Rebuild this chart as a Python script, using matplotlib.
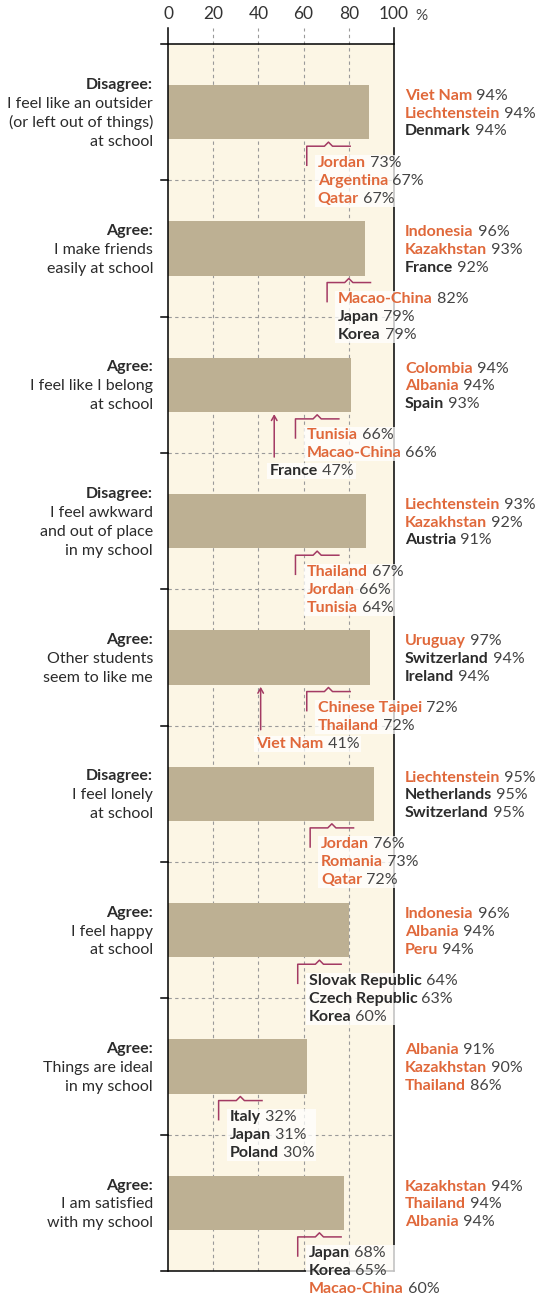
import matplotlib.pyplot as plt
from matplotlib.patches import Rectangle
from matplotlib.transforms import Bbox

plt.rcParams['font.family'] = ['Lato', 'DejaVu Sans']

# question labels (bold lead + text lines)
q_lead = ["Disagree:", "Agree:", "Agree:", "Disagree:", "Agree:",
          "Disagree:", "Agree:", "Agree:", "Agree:"]
q_lines = [
    ["I feel like an outsider", "(or left out of things)", "at school"],
    ["I make friends", "easily at school"],
    ["I feel like I belong", "at school"],
    ["I feel awkward", "and out of place", "in my school"],
    ["Other students", "seem to like me"],
    ["I feel lonely", "at school"],
    ["I feel happy", "at school"],
    ["Things are ideal", "in my school"],
    ["I am satisfied", "with my school"],
]

# OECD average share of students (bar)
bar_values = [89, 87, 81, 87.5, 89.5, 91, 80, 61.5, 78]

# highest three countries: (name, %, partner economy?)
top_countries = [
    [("Viet Nam", 94, True), ("Liechtenstein", 94, True), ("Denmark", 94, False)],
    [("Indonesia", 96, True), ("Kazakhstan", 93, True), ("France", 92, False)],
    [("Colombia", 94, True), ("Albania", 94, True), ("Spain", 93, False)],
    [("Liechtenstein", 93, True), ("Kazakhstan", 92, True), ("Austria", 91, False)],
    [("Uruguay", 97, True), ("Switzerland", 94, False), ("Ireland", 94, False)],
    [("Liechtenstein", 95, True), ("Netherlands", 95, False), ("Switzerland", 95, False)],
    [("Indonesia", 96, True), ("Albania", 94, True), ("Peru", 94, True)],
    [("Albania", 91, True), ("Kazakhstan", 90, True), ("Thailand", 86, True)],
    [("Kazakhstan", 94, True), ("Thailand", 94, True), ("Albania", 94, True)],
]

# lowest countries (bracketed)
low_countries = [
    [("Jordan", 73, True), ("Argentina", 67, True), ("Qatar", 67, True)],
    [("Macao-China", 82, True), ("Japan", 79, False), ("Korea", 79, False)],
    [("Tunisia", 66, True), ("Macao-China", 66, True)],
    [("Thailand", 67, True), ("Jordan", 66, True), ("Tunisia", 64, True)],
    [("Chinese Taipei", 72, True), ("Thailand", 72, True)],
    [("Jordan", 76, True), ("Romania", 73, True), ("Qatar", 72, True)],
    [("Slovak Republic", 64, False), ("Czech Republic", 63, False), ("Korea", 60, False)],
    [("Italy", 32, False), ("Japan", 31, False), ("Poland", 30, False)],
    [("Japan", 68, False), ("Korea", 65, False), ("Macao-China", 60, True)],
]
# where the bracket notch sits
bracket_mark = [71, 80, 66, 66, 71, 72.5, 67, 32, 67]

# outliers shown with an arrow
outliers = {2: ("France", 47, False), 4: ("Viet Nam", 41, True)}

CREAM = '#fcf6e5'
BAR = '#bdb093'
ORANGE = '#e0683a'
DARK = '#2b2b2b'
VALC = '#444444'
BR = '#a33a63'
GRID = '#9a9a9a'
FS = 11.5

fig = plt.figure(figsize=(5.48, 12.96), dpi=100)
ax = fig.add_axes([168 / 548, 1 - 1271 / 1296, 226 / 548, (1271 - 28) / 1296])
ax.set_xlim(0, 100)
ax.set_ylim(9, -0.117)

ax.add_patch(Rectangle((0, 0), 100, 9, fc=CREAM, ec='none', zorder=0))
for x in [20, 40, 60, 80]:
    ax.axvline(x, ls=(0, (3, 3)), color=GRID, lw=0.8, zorder=1)

n = len(bar_values)
ax.barh([i + 0.5 for i in range(n)], bar_values, height=0.4, color=BAR, zorder=2)

for k in range(1, n):
    ax.plot([0, 100], [k, k], ls=(0, (3, 3)), color=GRID, lw=0.8, zorder=1)
    ax.plot([-3.1, 0], [k, k], color='black', lw=1.1, clip_on=False, zorder=3)
for k in [0, n]:
    ax.plot([-3.1, 100], [k, k], color='black', lw=1.1, clip_on=False, zorder=3)

for s in ['top', 'bottom']:
    ax.spines[s].set_visible(False)
for s in ['left', 'right']:
    ax.spines[s].set_linewidth(1.1)
ax.xaxis.tick_top()
ax.set_xticks([0, 20, 40, 60, 80, 100])
ax.set_xticklabels(['0', '20', '40', '60', '80', '100'])
ax.tick_params(axis='x', length=0, pad=4, labelsize=12.5, labelcolor='#333333')
ax.set_yticks([])
ax.annotate('%', xy=(100, 1), xycoords=('data', 'axes fraction'),
            xytext=(15.5, 3.5), textcoords='offset points', ha='left', va='bottom',
            fontsize=11, color='#444444', annotation_clip=False)


def put_entry(x, y, name, val, partner):
    t1 = ax.text(x, y, name, color=ORANGE if partner else DARK, fontweight='bold',
                 fontsize=FS, va='center', ha='left', clip_on=False, zorder=6)
    t2 = ax.annotate(f" {val}%", xy=(1, 0), xycoords=t1, va='bottom', ha='left',
                     color=VALC, fontsize=FS, zorder=6, annotation_clip=False)
    return [t1, t2]


blocks = []
for i in range(n):
    c = i + 0.5
    # question label on the left
    lines = [q_lead[i]] + q_lines[i]
    for k, line in enumerate(lines):
        yy = c + 0.01 + (k - (len(lines) - 1) / 2) * 0.137
        ax.text(-6.6, yy, line, ha='right', va='center', fontsize=FS,
                fontweight='bold' if k == 0 else 'normal', color=DARK, clip_on=False)

    for k, (nm, v, p) in enumerate(top_countries[i]):
        put_entry(104.9, c + 0.012 + (k - 1) * 0.13, nm, v, p)

    m = bracket_mark[i]
    yb = c + 0.25
    ax.plot([m - 9.6, m - 9.6, m - 1.8, m, m + 1.8, m + 9.6],
            [c + 0.39, yb, yb, c + 0.22, yb, yb], color=BR, lw=1.1, zorder=3,
            clip_on=False)
    blk = []
    for k, (nm, v, p) in enumerate(low_countries[i]):
        blk += put_entry(m - 4.7, c + 0.37 + k * 0.132, nm, v, p)
    blocks.append(blk)

    if i in outliers:
        nm, v, p = outliers[i]
        ax.annotate('', xy=(v, c + 0.215), xytext=(v, c + 0.53),
                    arrowprops=dict(arrowstyle='->,head_length=0.35,head_width=0.2',
                                    color=BR, lw=1.1, shrinkA=0, shrinkB=0), zorder=3)
        blocks.append(put_entry(v - 1.8, c + 0.635, nm, v, p))

# light boxes behind the low-value labels
fig.canvas.draw()
r = fig.canvas.get_renderer()
inv = ax.transData.inverted()
for blk in blocks:
    bb = Bbox.union([t.get_window_extent(r) for t in blk])
    (x0, y0), (x1, y1) = inv.transform([(bb.x0 - 3, bb.y0 - 1), (bb.x1 + 2, bb.y1 + 1)])
    ax.add_patch(Rectangle((min(x0, x1), min(y0, y1)), abs(x1 - x0), abs(y1 - y0),
                           fc='white', ec='none', alpha=0.75, zorder=4, clip_on=False))

fig.savefig('out.png', dpi=100)
